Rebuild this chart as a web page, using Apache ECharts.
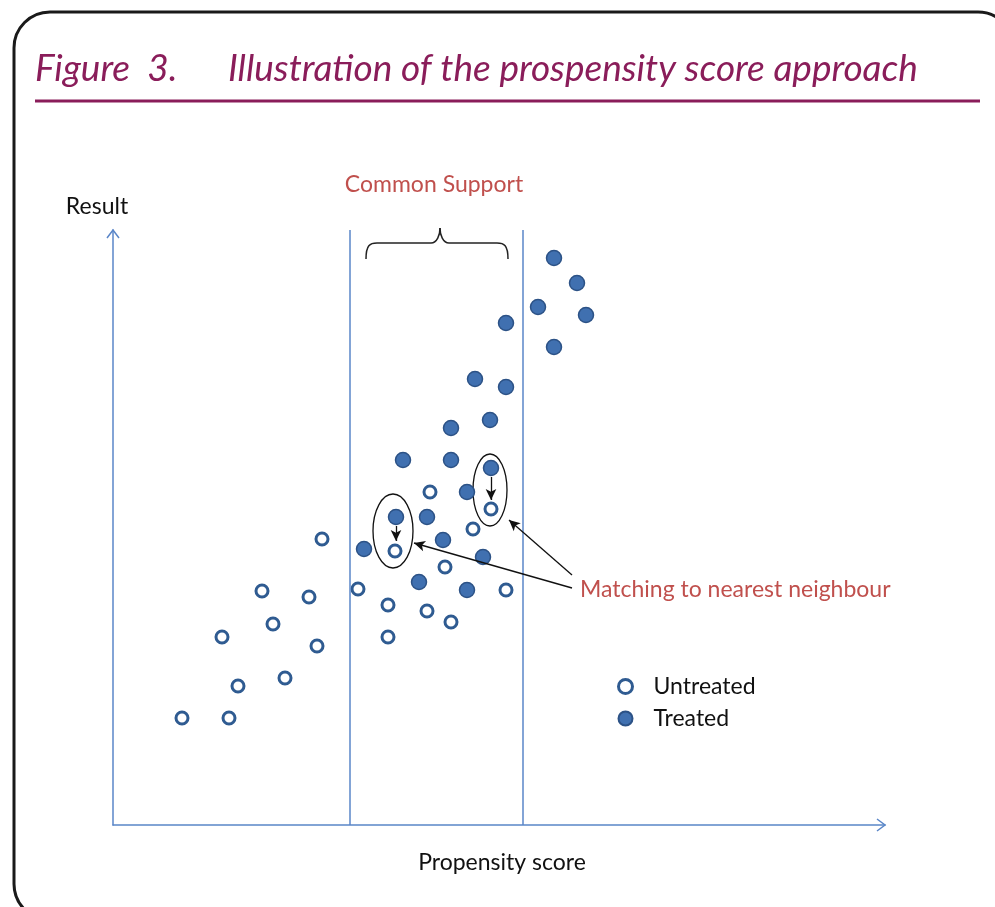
<!DOCTYPE html>
<html>
<head>
<meta charset="utf-8">
<script src="https://cdn.jsdelivr.net/npm/echarts@6/dist/echarts.min.js"></script>
<style>
html,body{margin:0;padding:0;background:#fff;}
#chart{width:995px;height:907px;}
</style>
</head>
<body>
<div id="chart"></div>
<script>
// ---- data (x = propensity score units, y = result units) ----
const untreated = [
  [69,107],[116,107],[125,139],[172,147],[109,188],[160,201],[204,179],
  [149,234],[196,228],[209,286],[245,236],[275,220],[275,188],[314,214],
  [338,203],[332,258],[360,296],[317,333],[282,274],[378,316],[393,235]
];
const treated = [
  [441,567],[464,542],[425,518],[473,510],[393,502],[441,478],[362,446],
  [393,438],[377,405],[338,397],[290,365],[338,365],[378,357],[354,333],
  [283,308],[314,308],[330,285],[251,276],[370,268],[306,243],[354,235]
];
const commonSupport = [237, 410];
const seriesNames = ['Untreated', 'Treated'];
const titleNum = 'Figure  3.';
const titleText = 'Illustration of the prospensity score approach';
const xName = 'Propensity score';
const yName = 'Result';
const annoSupport = 'Common Support';
const annoMatch = 'Matching to nearest neighbour';
// matched pairs: [from treated, to untreated]
const matchArrows = [[[283,299],[283,284]],[[378,348],[378,325]]];
const pointerArrows = [[[459,250],[396,305]],[[459,237],[301,282]]];
const ellipses = [[280,294,20,37],[377,335,17,36]]; // cx, cy, rx, ry

const AX = '#5a86c8';
const RED = '#c0504d';
const PURPLE = '#8a1d5a';
const FONT = 'Lato, "Open Sans", sans-serif';

(function () {
const chart = echarts.init(document.getElementById('chart'), null, {renderer: 'canvas'});

function arrowLines(list) {
  return list.map(p => [
    {coord: p[0], symbol: 'none'},
    {coord: p[1], symbol: 'arrow', symbolSize: [8, 11]}
  ]);
}

const hollowStyle = {color: '#fff', borderColor: '#2f5b91', borderWidth: 3, opacity: 1};
const filledStyle = {color: '#4070b0', borderColor: '#2c5286', borderWidth: 1.5, opacity: 1};

const option = {
  animation: false,
  backgroundColor: '#fff',
  grid: {left: 113, right: 110, top: 230, bottom: 82},
  xAxis: {
    type: 'value', min: 0, max: 772,
    name: xName, nameLocation: 'middle', nameGap: 26,
    nameTextStyle: {fontFamily: FONT, fontSize: 23, color: '#111', padding: [0, 0, 0, 6]},
    axisLine: {show: true, lineStyle: {color: AX, width: 1.5}},
    axisTick: {show: false}, axisLabel: {show: false}, splitLine: {show: false}
  },
  yAxis: {
    type: 'value', min: 0, max: 595,
    name: yName, nameLocation: 'end', nameGap: 12,
    nameTextStyle: {fontFamily: FONT, fontSize: 23, color: '#111', padding: [0, 32, 0, 0]},
    axisLine: {show: true, lineStyle: {color: AX, width: 1.5}},
    axisTick: {show: false}, axisLabel: {show: false}, splitLine: {show: false}
  },
  legend: {
    orient: 'vertical', left: 612, top: 670,
    itemWidth: 46, itemHeight: 14, itemGap: 9,
    textStyle: {fontFamily: FONT, fontSize: 23, color: '#111'},
    data: [
      {name: seriesNames[0], itemStyle: {borderWidth: 3, borderColor: '#2f5b91', color: '#fff'}},
      {name: seriesNames[1]}
    ]
  },
  series: [
    {
      name: seriesNames[0], type: 'scatter', data: untreated,
      symbol: 'circle', symbolSize: 12,
      itemStyle: hollowStyle,
      z: 3
    },
    {
      name: seriesNames[1], type: 'scatter', data: treated,
      symbol: 'circle', symbolSize: 15,
      itemStyle: filledStyle,
      z: 3,
      markLine: {
        silent: true, symbol: 'none', animation: false,
        label: {show: false},
        lineStyle: {color: AX, width: 1.5, type: 'solid'},
        data: commonSupport.map(v => ({xAxis: v}))
      }
    },
    {
      name: 'arrows', type: 'scatter', data: [],
      markLine: {
        silent: true, animation: false,
        label: {show: false},
        lineStyle: {color: '#111', width: 1.3, type: 'solid'},
        data: arrowLines(matchArrows.concat(pointerArrows))
      }
    }
  ]
};
chart.setOption(option);

function P(x, y) { return chart.convertToPixel({gridIndex: 0}, [x, y]); }

const elems = [];
// frame
elems.push({type: 'rect', shape: {x: 14, y: 12, width: 1000, height: 908, r: 36},
  style: {fill: null, stroke: '#1a1a1a', lineWidth: 3}, z: 10});
// title
elems.push({type: 'text', left: 35, top: 51, style: {text: titleNum, font: 'italic 37px ' + FONT, fill: PURPLE}});
elems.push({type: 'text', left: 228, top: 51, style: {text: titleText, font: 'italic 37px ' + FONT, fill: PURPLE}});
elems.push({type: 'line', shape: {x1: 35, y1: 101, x2: 980, y2: 101}, style: {stroke: PURPLE, lineWidth: 3}});
// axis arrowheads (open chevrons)
const xEnd = P(772, 0), yEnd = P(0, 595);
elems.push({type: 'polyline', shape: {points: [[xEnd[0]-8, xEnd[1]-6], xEnd, [xEnd[0]-8, xEnd[1]+6]]}, style: {stroke: AX, lineWidth: 1.5, fill: null}});
elems.push({type: 'polyline', shape: {points: [[yEnd[0]-6, yEnd[1]+8], yEnd, [yEnd[0]+6, yEnd[1]+8]]}, style: {stroke: AX, lineWidth: 1.5, fill: null}});
// ellipses
ellipses.forEach(e => {
  const c = P(e[0], e[1]);
  elems.push({type: 'ellipse', shape: {cx: c[0], cy: c[1], rx: e[2], ry: e[3]}, style: {stroke: '#111', lineWidth: 1.3, fill: null}});
});
// brace over common support
const bL = P(253, 566), bR = P(395, 566);
const bTop = bL[1] - 16, tip = bL[1] - 31, mid = (bL[0] + bR[0]) / 2 + 3;
const braceStyle = {stroke: '#222', lineWidth: 1.5, fill: null};
elems.push({type: 'bezierCurve', shape: {x1: bL[0], y1: bL[1], cpx1: bL[0], cpy1: bTop + 2, cpx2: bL[0] + 4, cpy2: bTop, x2: bL[0] + 11, y2: bTop}, style: braceStyle});
elems.push({type: 'line', shape: {x1: bL[0] + 11, y1: bTop, x2: mid - 9, y2: bTop}, style: braceStyle});
elems.push({type: 'bezierCurve', shape: {x1: mid - 9, y1: bTop, cpx1: mid - 3, cpy1: bTop, cpx2: mid, cpy2: bTop - 8, x2: mid, y2: tip}, style: braceStyle});
elems.push({type: 'bezierCurve', shape: {x1: mid, y1: tip, cpx1: mid, cpy1: bTop - 8, cpx2: mid + 3, cpy2: bTop, x2: mid + 9, y2: bTop}, style: braceStyle});
elems.push({type: 'line', shape: {x1: mid + 9, y1: bTop, x2: bR[0] - 11, y2: bTop}, style: braceStyle});
elems.push({type: 'bezierCurve', shape: {x1: bR[0] - 11, y1: bTop, cpx1: bR[0] - 4, cpy1: bTop, cpx2: bR[0], cpy2: bTop + 2, x2: bR[0], y2: bL[1]}, style: braceStyle});
// annotations
elems.push({type: 'text', x: mid - 6, y: 185, style: {text: annoSupport, font: '23px ' + FONT, fill: RED, align: 'center', verticalAlign: 'middle'}});
elems.push({type: 'text', x: 580, y: 590, style: {text: annoMatch, font: '23px ' + FONT, fill: RED, align: 'left', verticalAlign: 'middle'}});

chart.setOption({graphic: {elements: elems}});
})();
</script>
</body>
</html>
